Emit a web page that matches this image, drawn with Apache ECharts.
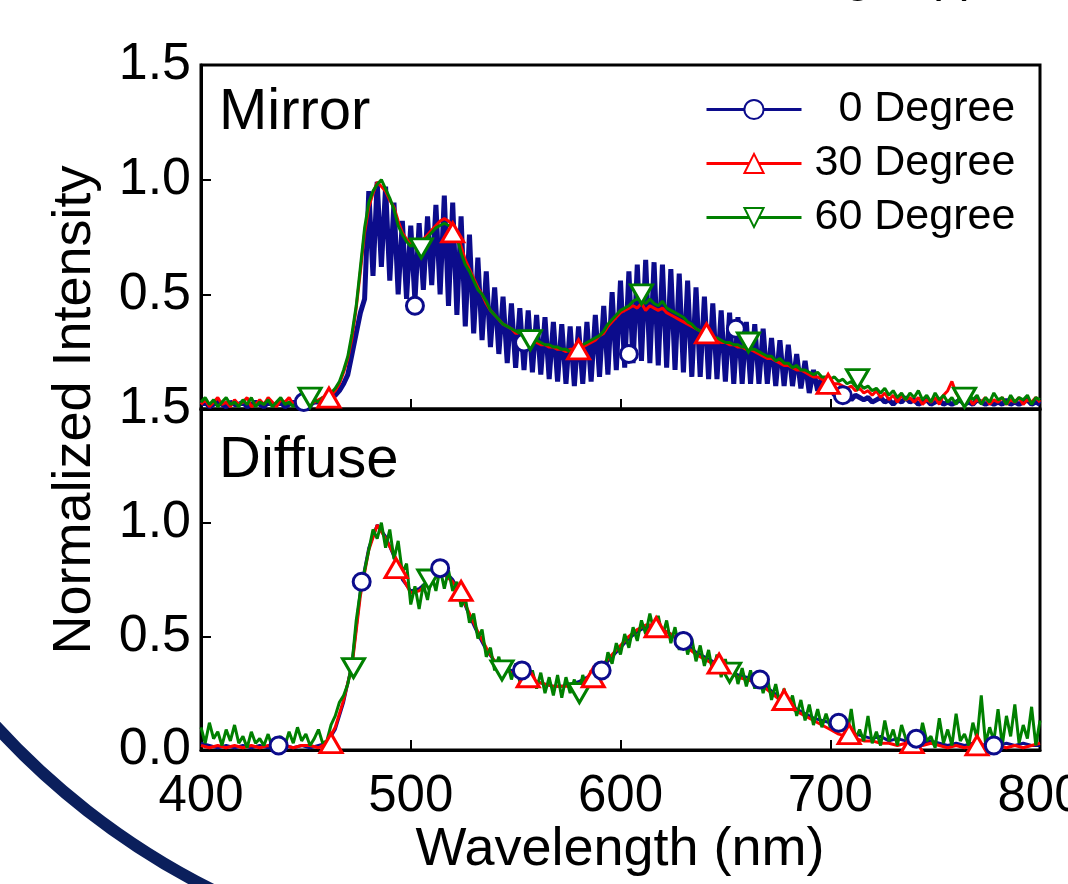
<!DOCTYPE html>
<html>
<head>
<meta charset="utf-8">
<script src="https://cdn.jsdelivr.net/npm/echarts@6/dist/echarts.min.js"></script>
<style>
html,body{margin:0;padding:0;background:#fff;}
#c{width:1068px;height:884px;}
</style>
</head>
<body>
<div id="c"></div>
<script>
// ---- Data ----
const wl2 = [400,402,404,406,408,410,412,414,416,418,420,422,424,426,428,430,432,434,436,438,440,442,444,446,448,450,452,454,456,458,460,462,464,466,468,470,472,474,476,478,480,482,484,486,488,490,492,494,496,498,500,502,504,506,508,510,512,514,516,518,520,522,524,526,528,530,532,534,536,538,540,542,544,546,548,550,552,554,556,558,560,562,564,566,568,570,572,574,576,578,580,582,584,586,588,590,592,594,596,598,600,602,604,606,608,610,612,614,616,618,620,622,624,626,628,630,632,634,636,638,640,642,644,646,648,650,652,654,656,658,660,662,664,666,668,670,672,674,676,678,680,682,684,686,688,690,692,694,696,698,700,702,704,706,708,710,712,714,716,718,720,722,724,726,728,730,732,734,736,738,740,742,744,746,748,750,752,754,756,758,760,762,764,766,768,770,772,774,776,778,780,782,784,786,788,790,792,794,796,798,800];
const wl4 = [400,404,408,412,416,420,424,428,432,436,440,444,448,452,456,460,464,468,472,476,480,484,488,492,496,500,504,508,512,516,520,524,528,532,536,540,544,548,552,556,560,564,568,572,576,580,584,588,592,596,600,604,608,612,616,620,624,628,632,636,640,644,648,652,656,660,664,668,672,676,680,684,688,692,696,700,704,708,712,716,720,724,728,732,736,740,744,748,752,756,760,764,768,772,776,780,784,788,792,796,800];

// Mirror panel (2 nm sampling)
const mirror0 = [
0.02,0.03,0.01,0.02,0.03,0.02,0.01,0.03,0.02,0.02,
0.03,0.01,0.02,0.03,0.02,0.01,0.03,0.02,0.02,0.03,
0.01,0.02,0.03,0.02,0.02,0.03,0.02,0.03,0.03,0.04,
0.04,0.05,0.06,0.08,0.11,0.15,0.24,0.33,0.42,0.48,
0.95,0.58,0.99,0.62,0.97,0.56,0.90,0.50,0.82,0.48,
0.80,0.47,0.81,0.52,0.84,0.54,0.89,0.50,0.93,0.45,
0.90,0.41,0.84,0.36,0.76,0.33,0.66,0.30,0.60,0.27,
0.53,0.24,0.49,0.20,0.46,0.18,0.44,0.17,0.43,0.16,
0.41,0.15,0.40,0.13,0.38,0.12,0.37,0.11,0.36,0.10,
0.36,0.11,0.38,0.12,0.41,0.14,0.45,0.15,0.51,0.17,
0.56,0.18,0.60,0.20,0.63,0.21,0.65,0.20,0.64,0.19,
0.63,0.18,0.61,0.17,0.59,0.16,0.56,0.14,0.53,0.14,
0.49,0.13,0.46,0.13,0.43,0.12,0.42,0.11,0.40,0.11,
0.38,0.11,0.37,0.11,0.35,0.11,0.31,0.10,0.30,0.10,
0.28,0.10,0.24,0.09,0.21,0.07,0.17,0.08,0.14,0.07,
0.10,0.06,0.08,0.05,0.07,0.04,0.06,0.05,0.04,0.05,
0.03,0.04,0.05,0.03,0.04,0.02,0.04,0.03,0.05,0.03,
0.04,0.02,0.03,0.04,0.02,0.03,0.04,0.02,0.03,0.02,
0.03,0.04,0.02,0.03,0.02,0.04,0.03,0.02,0.03,0.02,
0.03,0.02,0.04,0.02,0.03,0.02,0.03,0.04,0.02,0.03,
0.02];
const mirror30 = [
0.02,0.04,0.01,0.03,0.05,0.02,0.03,0.01,0.04,0.02,
0.03,0.05,0.01,0.02,0.04,0.02,0.05,0.03,0.01,0.04,
0.03,0.05,0.02,0.04,0.03,0.02,0.04,0.03,0.04,0.05,
0.05,0.06,0.08,0.11,0.16,0.22,0.31,0.44,0.60,0.77,
0.88,0.94,0.99,0.97,0.95,0.91,0.88,0.82,0.77,0.74,
0.72,0.73,0.72,0.74,0.76,0.78,0.80,0.82,0.83,0.82,
0.80,0.77,0.71,0.65,0.61,0.57,0.53,0.50,0.46,0.43,
0.41,0.39,0.37,0.36,0.35,0.33,0.33,0.32,0.31,0.30,
0.29,0.28,0.28,0.27,0.27,0.26,0.26,0.25,0.26,0.26,
0.27,0.27,0.28,0.29,0.30,0.32,0.33,0.36,0.38,0.40,
0.42,0.43,0.44,0.45,0.44,0.46,0.43,0.45,0.44,0.43,
0.44,0.42,0.41,0.40,0.39,0.38,0.37,0.36,0.35,0.34,
0.33,0.32,0.31,0.30,0.29,0.29,0.28,0.28,0.27,0.27,
0.26,0.26,0.25,0.24,0.23,0.22,0.22,0.21,0.20,0.19,
0.19,0.18,0.17,0.17,0.16,0.15,0.14,0.14,0.13,0.12,
0.12,0.11,0.11,0.10,0.09,0.10,0.08,0.09,0.07,0.08,
0.06,0.08,0.05,0.07,0.04,0.06,0.03,0.06,0.04,0.05,
0.03,0.05,0.02,0.04,0.03,0.05,0.02,0.06,0.08,0.12,
0.07,0.04,0.03,0.05,0.02,0.04,0.03,0.05,0.02,0.04,
0.03,0.05,0.02,0.04,0.03,0.05,0.02,0.04,0.03,0.05,
0.03];
const mirror60 = [
0.03,0.05,0.02,0.04,0.01,0.03,0.05,0.02,0.03,0.01,
0.04,0.02,0.05,0.01,0.03,0.02,0.04,0.01,0.03,0.05,
0.02,0.03,0.01,0.04,0.02,0.05,0.03,0.04,0.03,0.05,
0.06,0.07,0.09,0.12,0.17,0.23,0.33,0.45,0.62,0.79,
0.90,0.95,0.98,1.00,0.96,0.92,0.87,0.80,0.76,0.73,
0.71,0.72,0.70,0.73,0.75,0.77,0.79,0.80,0.81,0.80,
0.79,0.75,0.68,0.63,0.60,0.56,0.52,0.50,0.47,0.43,
0.41,0.39,0.37,0.36,0.35,0.34,0.33,0.32,0.31,0.30,
0.30,0.29,0.28,0.28,0.27,0.27,0.26,0.26,0.25,0.26,
0.27,0.28,0.29,0.30,0.31,0.32,0.34,0.37,0.39,0.41,
0.43,0.44,0.45,0.47,0.48,0.47,0.46,0.48,0.46,0.45,
0.47,0.44,0.43,0.42,0.41,0.40,0.38,0.37,0.35,0.34,
0.33,0.32,0.31,0.31,0.30,0.29,0.29,0.28,0.28,0.27,
0.27,0.26,0.26,0.25,0.24,0.23,0.23,0.21,0.22,0.20,
0.20,0.18,0.19,0.17,0.17,0.16,0.15,0.16,0.14,0.14,
0.13,0.14,0.12,0.13,0.11,0.12,0.10,0.11,0.09,0.10,
0.08,0.09,0.07,0.09,0.06,0.08,0.05,0.07,0.04,0.07,
0.05,0.08,0.04,0.06,0.03,0.07,0.04,0.06,0.03,0.05,
0.02,0.06,0.03,0.07,0.04,0.06,0.02,0.05,0.03,0.07,
0.04,0.05,0.02,0.06,0.03,0.05,0.04,0.06,0.02,0.05,
0.04];

// Diffuse panel
const diffuse0 = [
0.03,0.02,0.01,0.02,0.01,0.02,0.01,0.02,0.01,0.02,
0.02,0.01,0.02,0.01,0.02,0.03,0.09,0.21,0.38,0.70,
0.89,0.99,0.94,0.85,0.75,0.70,0.71,0.74,0.78,0.79,
0.75,0.68,0.59,0.51,0.44,0.39,0.36,0.35,0.34,0.32,
0.30,0.29,0.28,0.28,0.29,0.30,0.32,0.34,0.37,0.41,
0.45,0.49,0.52,0.54,0.54,0.53,0.51,0.48,0.46,0.43,
0.41,0.39,0.37,0.35,0.33,0.32,0.31,0.29,0.26,0.23,
0.20,0.18,0.16,0.14,0.13,0.12,0.10,0.08,0.07,0.06,
0.05,0.06,0.04,0.05,0.04,0.05,0.03,0.04,0.03,0.02,
0.03,0.02,0.03,0.02,0.03,0.02,0.03,0.02,0.03,0.02,
0.02];
const diffuse30 = [
0.02,0.01,0.02,0.01,0.02,0.01,0.02,0.01,0.02,0.01,
0.02,0.01,0.02,0.02,0.01,0.03,0.10,0.22,0.37,0.68,
0.88,0.99,0.93,0.86,0.76,0.69,0.70,0.73,0.76,0.77,
0.74,0.68,0.60,0.52,0.45,0.39,0.36,0.34,0.33,0.31,
0.30,0.29,0.28,0.28,0.28,0.29,0.31,0.34,0.38,0.42,
0.46,0.50,0.53,0.55,0.55,0.53,0.51,0.48,0.45,0.42,
0.40,0.38,0.36,0.34,0.32,0.31,0.30,0.28,0.25,0.22,
0.19,0.17,0.15,0.13,0.11,0.09,0.07,0.06,0.05,0.04,
0.04,0.03,0.03,0.02,0.03,0.02,0.02,0.03,0.02,0.01,
0.02,0.01,0.02,0.02,0.01,0.02,0.01,0.02,0.01,0.02,
0.03];
const diffuse60 = [
0.10,0.03,0.12,0.05,0.08,0.02,0.09,0.04,0.11,0.03,
0.06,0.01,0.08,0.03,0.05,0.02,0.07,0.01,0.04,0.06,
0.02,0.08,0.03,0.10,0.04,0.07,0.02,0.05,0.09,0.03,
0.04,0.11,0.15,0.21,0.24,0.29,0.38,0.57,0.70,0.79,
0.88,0.97,0.93,1.00,0.89,0.97,0.84,0.92,0.78,0.82,
0.64,0.72,0.62,0.73,0.66,0.77,0.70,0.80,0.71,0.79,
0.70,0.74,0.63,0.67,0.56,0.60,0.49,0.53,0.41,0.45,
0.35,0.41,0.32,0.39,0.31,0.38,0.30,0.36,0.28,0.35,
0.27,0.34,0.25,0.32,0.24,0.33,0.23,0.32,0.25,0.31,
0.24,0.33,0.27,0.35,0.30,0.39,0.33,0.43,0.38,0.47,
0.42,0.51,0.45,0.54,0.48,0.57,0.51,0.60,0.52,0.59,
0.50,0.57,0.47,0.54,0.44,0.52,0.42,0.49,0.39,0.46,
0.37,0.44,0.34,0.42,0.32,0.40,0.31,0.38,0.29,0.36,
0.28,0.35,0.27,0.34,0.25,0.32,0.22,0.29,0.20,0.27,
0.18,0.24,0.15,0.22,0.13,0.20,0.11,0.18,0.10,0.16,
0.10,0.13,0.08,0.11,0.06,0.18,0.05,0.09,0.04,0.15,
0.03,0.08,0.02,0.13,0.04,0.09,0.02,0.11,0.05,0.03,
0.08,0.02,0.12,0.04,0.06,0.01,0.14,0.03,0.09,0.02,
0.16,0.04,0.07,0.02,0.12,0.05,0.24,0.03,0.10,0.04,
0.18,0.02,0.15,0.06,0.20,0.03,0.11,0.05,0.19,0.02,
0.13];

// Marker positions [wavelength, intensity]
const mirror0Marks  = [[449,0.03],[502,0.45],[554,0.29],[604,0.24],[655,0.35],[706,0.06]];
const mirror30Marks = [[461,0.05],[520,0.77],[580,0.26],[641,0.33],[699,0.11]];
const mirror60Marks = [[452,0.05],[505,0.70],[557,0.30],[610,0.50],[661,0.29],[713,0.13],[764,0.05]];
const diffuse0Marks  = [[437,0.02],[476.6,0.74],[514,0.80],[553,0.35],[591,0.35],[630,0.48],[666.5,0.31],[704,0.12],[741,0.05],[778,0.02]];
const diffuse30Marks = [[462,0.03],[493,0.80],[524,0.70],[556,0.32],[587,0.32],[617,0.54],[647,0.38],[678,0.22],[709,0.07],[739,0.03],[770,0.02]];
const diffuse60Marks = [[472.7,0.36],[508.6,0.75],[543.5,0.35],[580.4,0.25],[652,0.34]];

const xTicks = [400,500,600,700,800];
const yTicks = [0,0.5,1.0,1.5];
const seriesNames = ['0 Degree','30 Degree','60 Degree'];
const legendLabels = {'0 Degree':'  0 Degree','30 Degree':'30 Degree','60 Degree':'60 Degree'};

// ---- Chart ----
const BLUE = '#0c0c8c', RED = '#ff0000', GREEN = '#008000';
const FONT = '"Liberation Sans", Arial, Helvetica, sans-serif';
const zip = (xs, ys) => xs.map((x, i) => [x, ys[i]]);

function lineS(name, xs, ys, color, gi, symbol, rot, z, w) {
  return {
    type: 'line', name: name, xAxisIndex: gi, yAxisIndex: gi,
    data: zip(xs, ys), showSymbol: false, symbol: symbol, symbolRotate: rot || 0,
    lineStyle: { color: color, width: w || 3, join: 'bevel' }, itemStyle: { color: color },
    z: z, animation: false, silent: true
  };
}
function markS(name, data, color, gi, symbol, size, rot, z) {
  return {
    type: 'scatter', name: name, xAxisIndex: gi, yAxisIndex: gi, data: data,
    symbol: symbol, symbolSize: size, symbolRotate: rot || 0,
    itemStyle: { color: '#fff', borderColor: color, borderWidth: 3, opacity: 1 },
    z: z, animation: false, silent: true
  };
}

const axisLineStyle = { color: '#000', width: 3 };
function xAx(gi, showLabel) {
  return {
    type: 'value', gridIndex: gi, min: xTicks[0], max: xTicks[xTicks.length - 1], interval: 100,
    axisLine: { show: true, lineStyle: axisLineStyle, onZero: false },
    axisTick: { show: true, inside: true, length: 10, lineStyle: { color: '#000', width: 2 } },
    axisLabel: { show: showLabel, color: '#000', fontSize: 51, fontFamily: FONT, margin: 21, hideOverlap: false },
    splitLine: { show: false }
  };
}
function yAx(gi, hideZero) {
  return {
    type: 'value', gridIndex: gi, min: yTicks[0], max: yTicks[yTicks.length - 1], interval: 0.5,
    axisLine: { show: true, lineStyle: axisLineStyle, onZero: false },
    axisTick: { show: true, inside: true, length: 10, lineStyle: { color: '#000', width: 2 } },
    axisLabel: { show: true, color: '#000', fontSize: 52, fontFamily: FONT, margin: 10,
      formatter: v => (hideZero && v === 0) ? '' : v.toFixed(1) },
    splitLine: { show: false }
  };
}

const chart = echarts.init(document.getElementById('c'), null, { renderer: 'canvas' });
chart.setOption({
  backgroundColor: '#fff',
  animation: false,
  grid: [
    { left: 201, right: 28, top: 65, height: 344, show: true, borderColor: '#000', borderWidth: 3, backgroundColor: 'transparent', containLabel: false, outerBoundsMode: 'none' },
    { left: 201, right: 28, top: 409, height: 341, show: true, borderColor: '#000', borderWidth: 3, backgroundColor: 'transparent', containLabel: false, outerBoundsMode: 'none' }
  ],
  xAxis: [xAx(0, false), xAx(1, true)],
  yAxis: [yAx(0, true), yAx(1, false)],
  legend: {
    data: seriesNames, orient: 'vertical', left: 705, top: 88, padding: 0,
    itemWidth: 95, itemHeight: 24, itemGap: 11,
    formatter: n => legendLabels[n],
    lineStyle: { width: 3 },
    textStyle: { fontSize: 43, lineHeight: 43, color: '#000', fontFamily: FONT, padding: [0, 0, 0, 8] },
    selectedMode: false
  },
  graphic: [
    { type: 'arc', shape: { cx: 544, cy: 226, r: 742, startAngle: 110 * Math.PI / 180, endAngle: 146 * Math.PI / 180 },
      style: { stroke: '#0b1f5c', lineWidth: 12, fill: null }, z: -10, silent: true },
    { type: 'text', x: 75, y: 410, rotation: Math.PI / 2,
      style: { text: 'Normalized Intensity', fontSize: 54, fontFamily: FONT, fill: '#000', textAlign: 'center', textVerticalAlign: 'middle' } },
    { type: 'text', x: 620, y: 850,
      style: { text: 'Wavelength (nm)', fontSize: 54, fontFamily: FONT, fill: '#000', textAlign: 'center', textVerticalAlign: 'middle' } },
    { type: 'text', x: 219, y: 113,
      style: { text: 'Mirror', fontSize: 58, fontFamily: FONT, fill: '#000', textAlign: 'left', textVerticalAlign: 'middle' } },
    { type: 'text', x: 219, y: 461,
      style: { text: 'Diffuse', fontSize: 58, fontFamily: FONT, fill: '#000', textAlign: 'left', textVerticalAlign: 'middle' } },
    { type: 'text', x: 978, y: 2,
      style: { text: 'Emission Angle (°)', fontSize: 50, fontFamily: FONT, fill: '#000', textAlign: 'right', textVerticalAlign: 'bottom' } }
  ],
  series: [
    lineS('0 Degree', wl2, mirror0, BLUE, 0, 'emptyCircle', 0, 2, 5),
    lineS('30 Degree', wl2, mirror30, RED, 0, 'emptyTriangle', 0, 3),
    lineS('60 Degree', wl2, mirror60, GREEN, 0, 'emptyTriangle', 180, 4),
    markS('m0', mirror0Marks, BLUE, 0, 'circle', 17, 0, 6),
    markS('m30', mirror30Marks, RED, 0, 'triangle', [22, 19], 0, 7),
    markS('m60', mirror60Marks, GREEN, 0, 'triangle', [22, 19], 180, 8),
    lineS('d0', wl4, diffuse0, BLUE, 1, 'none', 0, 2),
    lineS('d30', wl4, diffuse30, RED, 1, 'none', 0, 3),
    lineS('d60', wl2, diffuse60, GREEN, 1, 'none', 0, 4),
    markS('dm60', diffuse60Marks, GREEN, 1, 'triangle', [22, 19], 180, 6),
    markS('dm30', diffuse30Marks, RED, 1, 'triangle', [22, 19], 0, 7),
    markS('dm0', diffuse0Marks, BLUE, 1, 'circle', 17, 0, 8)
  ]
});
</script>
</body>
</html>
